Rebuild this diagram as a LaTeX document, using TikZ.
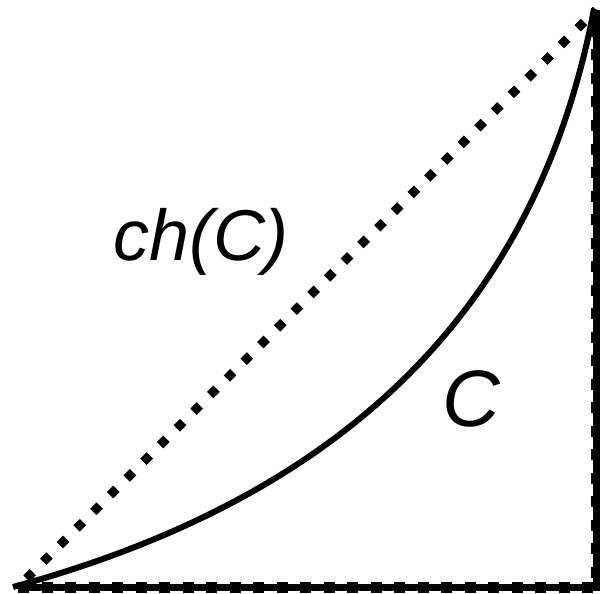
\documentclass[tikz,border=0pt]{standalone}
\usepackage{fontspec}
\setmainfont{Liberation Sans}
\begin{document}
\begin{tikzpicture}[x=1pt,y=-1pt,
  hullline/.style={line width=9pt,dash pattern=on 9pt off 14.6pt,dash phase=-12pt},
  baseline solid/.style={line width=7pt},
  baseline dash/.style={line width=11pt,dash pattern=on 11pt off 12.5pt},
  curveline/.style={line width=6pt},
  lbl/.style={inner sep=0pt,anchor=base,font=\itshape}]
\useasboundingbox (0,0) rectangle (600,594);
\coordinate (A) at (18,587);
\coordinate (B) at (596,10);
\coordinate (D) at (596,587);
\coordinate (C0) at (13,587);
\coordinate (C1) at (594,9);
% axes (dashed over solid)
\draw[baseline solid] (A) -- (D) -- (B);
\draw[baseline dash] (A) -- (D) -- (B);
% convex hull diagonal
\draw[hullline] (A) -- (B);
% curve C
\draw[curveline] (C0) .. controls (344,497) and (537,309) .. (C1);
% labels
\node[lbl,font=\fontsize{72}{72}\selectfont\itshape] (ch) at (201,260) {ch(C)};
\node[lbl,font=\fontsize{80}{80}\selectfont\itshape] (c) at (471,426) {C};
\end{tikzpicture}
\end{document}
